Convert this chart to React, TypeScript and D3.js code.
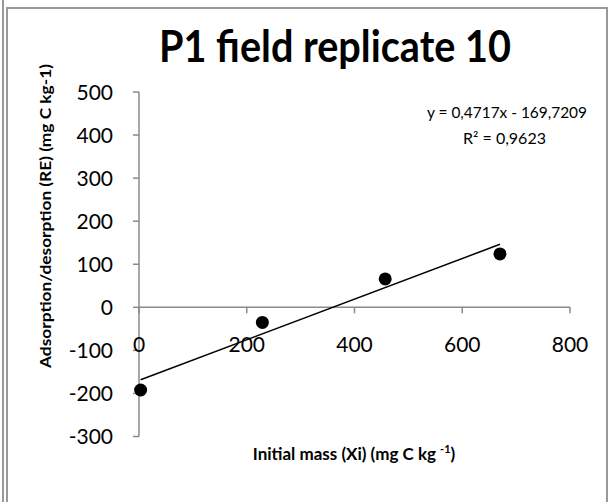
import React from "react";
import * as d3 from "d3";

const W = 611;
const H = 502;

const title = "P1 field replicate 10";
const xLabel = "Initial mass (Xi) (mg C kg ";
const xLabelSup = "-1";
const yLabel = "Adsorption/desorption (RE) (mg C kg-1)";

const initialMass = [3, 229, 457, 670];
const adsorption = [-192, -35, 66, 124];

const xTicks = [0, 200, 400, 600, 800];
const yTicks = [-300, -200, -100, 0, 100, 200, 300, 400, 500];

const slope = 0.4717;
const intercept = -169.7209;
const eqText = "y = 0,4717x - 169,7209";
const r2Text = "R² = 0,9623";

const FONT = "Lato, 'Open Sans', sans-serif";
const AXIS = "#8a8a8a";

export default function App() {
  const x = d3.scaleLinear().domain([0, 800]).range([139, 570]);
  const y = d3.scaleLinear().domain([-300, 500]).range([436.5, 92]);

  const xMin = d3.min(initialMass) as number;
  const xMax = d3.max(initialMass) as number;
  const trend = d3
    .line<number>()
    .x((d) => x(d))
    .y((d) => y(slope * d + intercept));

  return (
    <svg
      width={W}
      height={H}
      style={{ position: "absolute", left: 0, top: 0, background: "#fff" }}
      fontFamily={FONT}
    >
      {/* frame */}
      <line x1={3} y1={0} x2={3} y2={H} stroke="#999" strokeWidth={2} />
      <line x1={7} y1={8} x2={7} y2={H} stroke="#999" strokeWidth={2} />
      <line x1={6} y1={8} x2={608} y2={8} stroke="#999" strokeWidth={2} />
      <line x1={607} y1={7} x2={607} y2={H} stroke="#999" strokeWidth={2} />

      {/* title */}
      <text
        x={335}
        y={62}
        textAnchor="middle"
        fontSize={44}
        fontWeight="bold"
        fill="#000"
        textLength={352}
        lengthAdjust="spacingAndGlyphs"
      >
        {title}
      </text>

      {/* y axis */}
      <line x1={x(0)} y1={y(500)} x2={x(0)} y2={y(-300)} stroke={AXIS} strokeWidth={1.5} />
      {yTicks.map((t) => (
        <g key={"y" + t}>
          <line x1={x(0) - 6} x2={x(0)} y1={y(t)} y2={y(t)} stroke={AXIS} strokeWidth={1.5} />
          <text
            x={113}
            y={y(t)}
            dy="0.36em"
            textAnchor="end"
            fontSize={21}
            fill="#000"
          >
            {t}
          </text>
        </g>
      ))}

      {/* x axis */}
      <line x1={x(0)} y1={y(0)} x2={x(800)} y2={y(0)} stroke={AXIS} strokeWidth={1.5} />
      {xTicks.map((t) => (
        <g key={"x" + t}>
          <line x1={x(t)} x2={x(t)} y1={y(0)} y2={y(0) + 6} stroke={AXIS} strokeWidth={1.5} />
          <text x={x(t)} y={352} textAnchor="middle" fontSize={21} fill="#000">
            {t}
          </text>
        </g>
      ))}

      {/* trendline */}
      <path d={trend([xMin, xMax]) || ""} stroke="#000" strokeWidth={1.5} fill="none" />

      {/* points */}
      {initialMass.map((v, i) => (
        <circle key={"p" + i} cx={x(v)} cy={y(adsorption[i])} r={6.5} fill="#000" />
      ))}

      {/* equation */}
      <text x={507} y={118} textAnchor="middle" fontSize={14.5} fill="#000" textLength={160} lengthAdjust="spacingAndGlyphs">
        {eqText}
      </text>
      <text x={504.5} y={144} textAnchor="middle" fontSize={14.5} fill="#000" textLength={83} lengthAdjust="spacingAndGlyphs">
        {r2Text}
      </text>

      {/* axis titles */}
      <text x={354} y={460} textAnchor="middle" fontSize={17} fontWeight="bold" fill="#000">
        <tspan>{xLabel}</tspan>
        <tspan fontSize={11} dy={-7}>{xLabelSup}</tspan>
        <tspan dy={7}>)</tspan>
      </text>
      <text
        transform={`translate(51, 216) rotate(-90)`}
        textAnchor="middle"
        fontSize={15}
        fontWeight="bold"
        fill="#000"
        textLength={304}
        lengthAdjust="spacingAndGlyphs"
      >
        {yLabel}
      </text>
    </svg>
  );
}
